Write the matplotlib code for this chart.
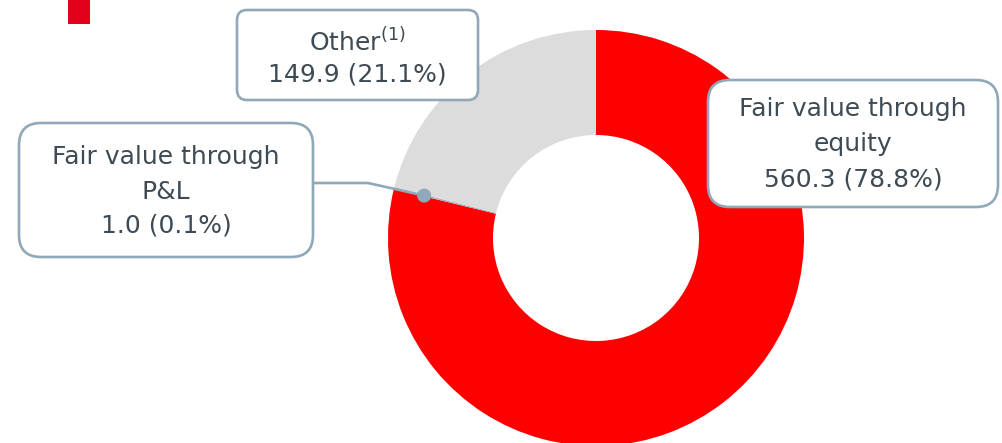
import matplotlib
matplotlib.use("Agg")
import matplotlib.pyplot as plt
from matplotlib.patches import FancyBboxPatch, Circle, Rectangle
import numpy as np

# ---- data ----
categories = ["Fair value through equity", "Fair value through P&L", "Other"]
values = [560.3, 1.0, 149.9]
shares = [78.8, 0.1, 21.1]
colors = ["#ff0000", "#9ab0c2", "#dcdcdc"]

W, H = 1003, 443
fig = plt.figure(figsize=(W / 100, H / 100), dpi=100)
ax = fig.add_axes([0, 0, 1, 1])
plt.rcParams['mathtext.fontset'] = 'dejavusans'

def Y(y):
    return H - y

cx, cy = 596, Y(238)
r_out, ring = 208, 105

ax.pie(values, colors=colors, startangle=90, counterclock=False,
       radius=r_out, center=(cx, cy),
       wedgeprops=dict(width=ring, linewidth=0))

ax.set_xlim(0, W)
ax.set_ylim(0, H)
ax.set_aspect('equal')
ax.axis('off')

txt_color = "#3e4a54"
edge = "#8fa8ba"
fs = 18

def box(x0, y0, x1, y1, rad, z=5):
    p = FancyBboxPatch((x0, Y(y1)), x1 - x0, y1 - y0,
                       boxstyle=f"round,pad=0,rounding_size={rad}",
                       fc="white", ec=edge, lw=1.9, zorder=z)
    ax.add_patch(p)

# red square top-left
ax.add_patch(Rectangle((68, Y(24)), 22, 24, fc="#e2001a", ec="none", zorder=6))

# Other box
box(237, 10, 478, 100, 10)
ax.text(357, Y(42), r"Other$^{\mathregular{(1)}}$", ha='center', va='center',
        fontsize=fs, color=txt_color, zorder=7)
ax.text(357, Y(74), f"{values[2]:.1f} ({shares[2]:.1f}%)", ha='center', va='center',
        fontsize=fs, color=txt_color, zorder=7)

# Fair value through equity box
box(708, 80, 998, 207, 22)
ax.text(853, Y(109), "Fair value through", ha='center', va='center',
        fontsize=fs, color=txt_color, zorder=7)
ax.text(853, Y(144), "equity", ha='center', va='center',
        fontsize=fs, color=txt_color, zorder=7)
ax.text(853, Y(179), f"{values[0]:.1f} ({shares[0]:.1f}%)", ha='center', va='center',
        fontsize=fs, color=txt_color, zorder=7)

# Fair value through P&L box
box(19, 123, 313, 257, 22)
ax.text(166, Y(157), "Fair value through", ha='center', va='center',
        fontsize=fs, color=txt_color, zorder=7)
ax.text(166, Y(192), "P&L", ha='center', va='center',
        fontsize=fs, color=txt_color, zorder=7)
ax.text(166, Y(226), f"{values[1]:.1f} ({shares[1]:.1f}%)", ha='center', va='center',
        fontsize=fs, color=txt_color, zorder=7)

# leader line to the P&L slice
total = sum(values)
mid_frac = (values[0] + values[1] / 2) / total
ang = np.deg2rad(90 - 360 * mid_frac)
rr = 177
dx, dy = cx + rr * np.cos(ang), cy + rr * np.sin(ang)
ax.plot([313, 368, dx], [Y(183), Y(183), dy], color=edge, lw=1.9,
        solid_capstyle='butt', zorder=4)
ax.add_patch(Circle((dx, dy), 7, fc=edge, ec='none', zorder=8))

fig.savefig("out.png", dpi=100)
